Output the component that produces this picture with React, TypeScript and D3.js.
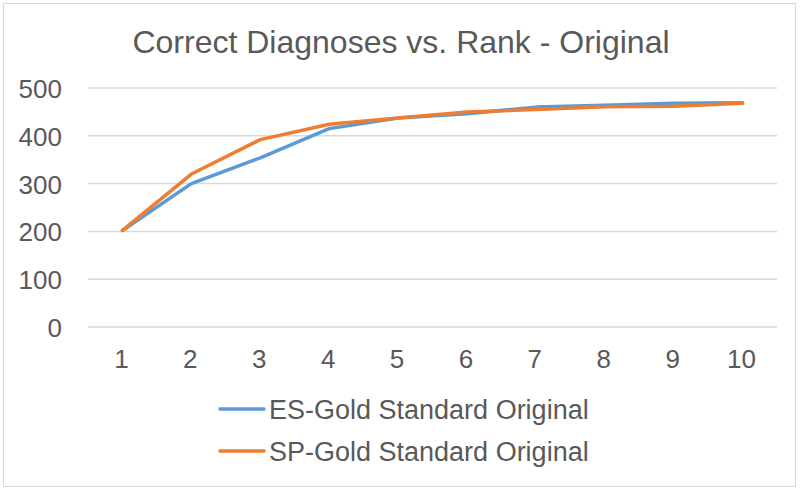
import React from 'react'
import * as d3 from 'd3'

const width = 800
const height = 491
const ranks = ['1', '2', '3', '4', '5', '6', '7', '8', '9', '10']
const esValues = [202, 300, 354, 415, 437, 446, 460, 464, 468, 469]
const spValues = [202, 320, 392, 424, 437, 450, 455, 461, 462, 468]
const yTicks = [0, 100, 200, 300, 400, 500]
const seriesNames = ['ES-Gold Standard Original', 'SP-Gold Standard Original']
const colors = ['#5B9BD5', '#ED7D31']
const textColor = '#595959'
const font = 'Liberation Sans, Arial, sans-serif'

const x = d3.scaleBand().domain(ranks).range([88, 777])
const y = d3.scaleLinear().domain([0, 500]).range([327, 88])

export default function App() {
  const line = d3.line<number>()
    .x((_, i) => (x(ranks[i]) as number) + x.bandwidth() / 2)
    .y(d => y(d))
  const series = [esValues, spValues]
  return (
    <svg width={width} height={height} style={{ position: 'absolute', left: 0, top: 0, display: 'block' }}
      fontFamily={font}>
      <rect x={0} y={0} width={width} height={height} fill='#fff' />
      <rect x={3.5} y={3.5} width={792} height={483} fill='none' stroke='#d9d9d9' strokeWidth={1} />
      <text x={401} y={53} textAnchor='middle' fontSize={32} fill={textColor}>
        Correct Diagnoses vs. Rank - Original
      </text>
      {yTicks.map(t => (
        <g key={t}>
          <line x1={88} x2={777} y1={y(t)} y2={y(t)} stroke='#d9d9d9' strokeWidth={1.5} />
          <text x={62} y={y(t) + 10} textAnchor='end' fontSize={26} fill={textColor}>{t}</text>
        </g>
      ))}
      {ranks.map(r => (
        <text key={r} x={(x(r) as number) + x.bandwidth() / 2 - 1} y={368} textAnchor='middle'
          fontSize={26} fill={textColor}>{r}</text>
      ))}
      {series.map((s, i) => (
        <path key={i} d={line(s) || ''} fill='none' stroke={colors[i]} strokeWidth={3.5}
          strokeLinejoin='round' strokeLinecap='round' />
      ))}
      {seriesNames.map((n, i) => (
        <g key={n} transform={`translate(0, ${409 + i * 42})`}>
          <line x1={220} x2={264} y1={0} y2={0} stroke={colors[i]} strokeWidth={3.5} strokeLinecap='round' />
          <text x={269} y={9.5} fontSize={27} fill={textColor}>{n}</text>
        </g>
      ))}
    </svg>
  )
}
